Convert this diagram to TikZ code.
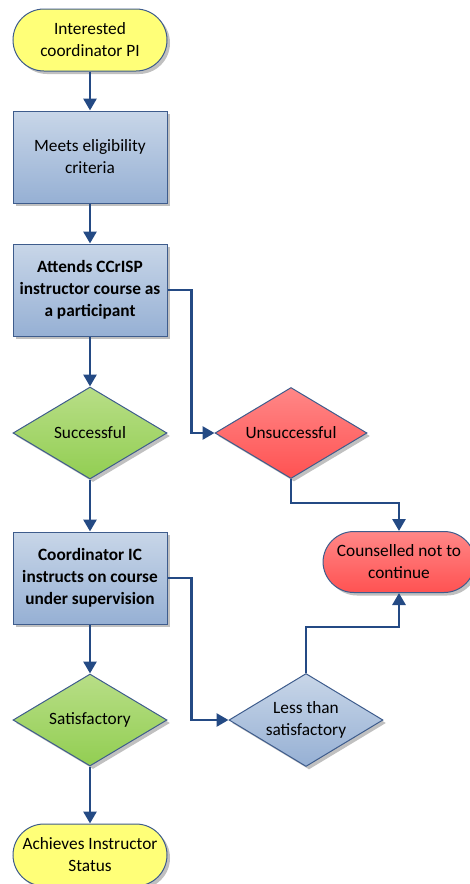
\documentclass[tikz,border=0pt]{standalone}
\usepackage{fontspec}
\setmainfont{Carlito}
\usetikzlibrary{shapes.geometric, arrows.meta, shadows}
\definecolor{flowblue}{RGB}{36,74,132}
\definecolor{edgeblue}{RGB}{62,92,140}
\definecolor{termyellow}{RGB}{255,255,120}
\definecolor{boxtop}{RGB}{200,214,232}
\definecolor{boxbot}{RGB}{150,176,212}
\definecolor{greentop}{RGB}{184,222,135}
\definecolor{greenbot}{RGB}{146,206,82}
\definecolor{redtop}{RGB}{255,135,135}
\definecolor{redbot}{RGB}{255,82,82}

\tikzset{
    base/.style={draw=edgeblue, line width=1pt, align=center,
        font=\fontsize{17.3}{22}\selectfont,
        drop shadow={shadow xshift=3pt, shadow yshift=-3pt, fill=black!45, opacity=.55}},
    terminal/.style={base, rectangle, rounded corners=31pt, minimum width=154pt,
        minimum height=62pt, inner sep=0pt},
    process/.style={base, rectangle, minimum width=154pt, minimum height=92pt,
        top color=boxtop, bottom color=boxbot},
    decision/.style={base, diamond, aspect=1.67, inner sep=0pt,
        minimum width=154pt, minimum height=92pt},
    flow/.style={draw=flowblue, line width=2.8pt, -{Triangle[width=13pt,length=12pt]}}
}

\begin{document}
\begin{tikzpicture}[x=1pt, y=-1pt]
    \useasboundingbox (0,0) rectangle (469,884);

    % Main column
    \node[terminal, fill=termyellow] (interested) at (90,40) {Interested\\coordinator PI};
    \node[process] (eligible) at (90,157) {Meets eligibility\\criteria};
    \node[process, font=\fontsize{17.3}{22}\selectfont\bfseries] (attends) at (90,290)
        {Attends CCrISP\\instructor course as\\a participant};
    \node[decision, top color=greentop, bottom color=greenbot] (successful) at (90,433) {Successful};
    \node[process, font=\fontsize{17.3}{22}\selectfont\bfseries] (instructs) at (90,578)
        {Coordinator IC\\instructs on course\\under supervision};
    \node[decision, top color=greentop, bottom color=greenbot] (satisfactory) at (90,720) {Satisfactory};
    \node[terminal, fill=termyellow] (achieves) at (90,855) {Achieves Instructor\\Status};

    % Side branch
    \node[decision, minimum width=152pt, minimum height=91pt,
        top color=redtop, bottom color=redbot] (unsuccessful) at (291,433) {Unsuccessful};
    \node[terminal, minimum width=152pt, minimum height=61pt,
        top color=redtop, bottom color=redbot] (counselled) at (399,562) {Counselled not to\\continue};
    \node[decision, minimum height=93pt, top color=boxtop, bottom color=boxbot] (lessthan) at (306,720)
        {Less than\\satisfactory};

    % Connectors
    \draw[flow] (interested) -- (eligible);
    \draw[flow] (eligible) -- (attends);
    \draw[flow] (attends) -- (successful);
    \draw[flow] (successful) -- (instructs);
    \draw[flow] (instructs) -- (satisfactory);
    \draw[flow] (satisfactory) -- (achieves);
    \draw[flow] (attends.east) -- ++(24,0) |- (unsuccessful.west);
    \draw[flow] (unsuccessful.south) -- ++(0,24) -| (counselled.north);
    \draw[flow] (instructs.east) -- ++(24,0) |- (lessthan.west);
    \draw[flow] (lessthan.north) -- ++(0,-46) -| (counselled.south);
\end{tikzpicture}
\end{document}
